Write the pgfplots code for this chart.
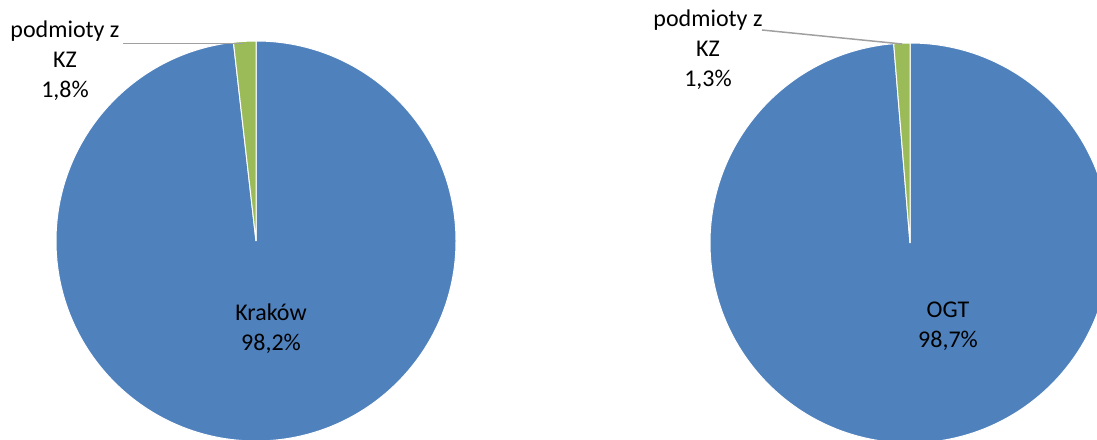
\documentclass[border=0pt]{standalone}
\usepackage{pgfplots}
\pgfplotsset{compat=1.18}
\usepackage{fontspec}
\setmainfont{Carlito}
\definecolor{pieblue}{HTML}{4F81BD}
\definecolor{piegreen}{HTML}{9BBB59}
\definecolor{leader}{HTML}{A0A0A0}
% shares in percent
\def\KrakowMain{98.2}\def\KrakowKZ{1.8}
\def\OGTMain{98.7}\def\OGTKZ{1.3}
\begin{document}
\begin{tikzpicture}
\begin{axis}[
  at={(0,0)}, anchor=south west,
  width=1097pt, height=439pt, scale only axis,
  xmin=0, xmax=1097, ymin=0, ymax=439,
  hide axis,
]
% left pie: centre (256,198), r=200
\pgfmathsetmacro{\ga}{90+3.6*\KrakowKZ}
\fill[pieblue, draw=white, line width=1pt] (axis cs:256,198) -- (axis cs:256,398) arc[start angle=90, end angle={\ga-360}, radius=200pt] -- cycle;
\fill[piegreen, draw=white, line width=1pt] (axis cs:256,198) -- (axis cs:256,398) arc[start angle=90, end angle=\ga, radius=200pt] -- cycle;
% right pie: centre (910,196), r=200
\pgfmathsetmacro{\gb}{90+3.6*\OGTKZ}
\fill[pieblue, draw=white, line width=1pt] (axis cs:910,196) -- (axis cs:910,396) arc[start angle=90, end angle={\gb-360}, radius=200pt] -- cycle;
\fill[piegreen, draw=white, line width=1pt] (axis cs:910,196) -- (axis cs:910,396) arc[start angle=90, end angle=\gb, radius=200pt] -- cycle;
% leader lines
\draw[leader, line width=1.5pt] (axis cs:123,395.5) -- (axis cs:244,395.5);
\draw[leader, line width=1.5pt] (axis cs:762,409) -- (axis cs:902,395);
% labels
\node[align=center, font=\fontsize{24}{30}\selectfont, text=black] at (axis cs:65,378) {podmioty z\\KZ\\1,8\%};
\node[align=center, font=\fontsize{24}{30}\selectfont, text=black] at (axis cs:708,389) {podmioty z\\KZ\\1,3\%};
\node[align=center, font=\fontsize{24}{30}\selectfont, text=black] at (axis cs:271,110) {Kraków\\98,2\%};
\node[align=center, font=\fontsize{24}{30}\selectfont, text=black] at (axis cs:948,113) {OGT\\98,7\%};
\end{axis}
\pgfresetboundingbox
\path (0,0) rectangle (1097pt,439pt);
\end{tikzpicture}
\end{document}
